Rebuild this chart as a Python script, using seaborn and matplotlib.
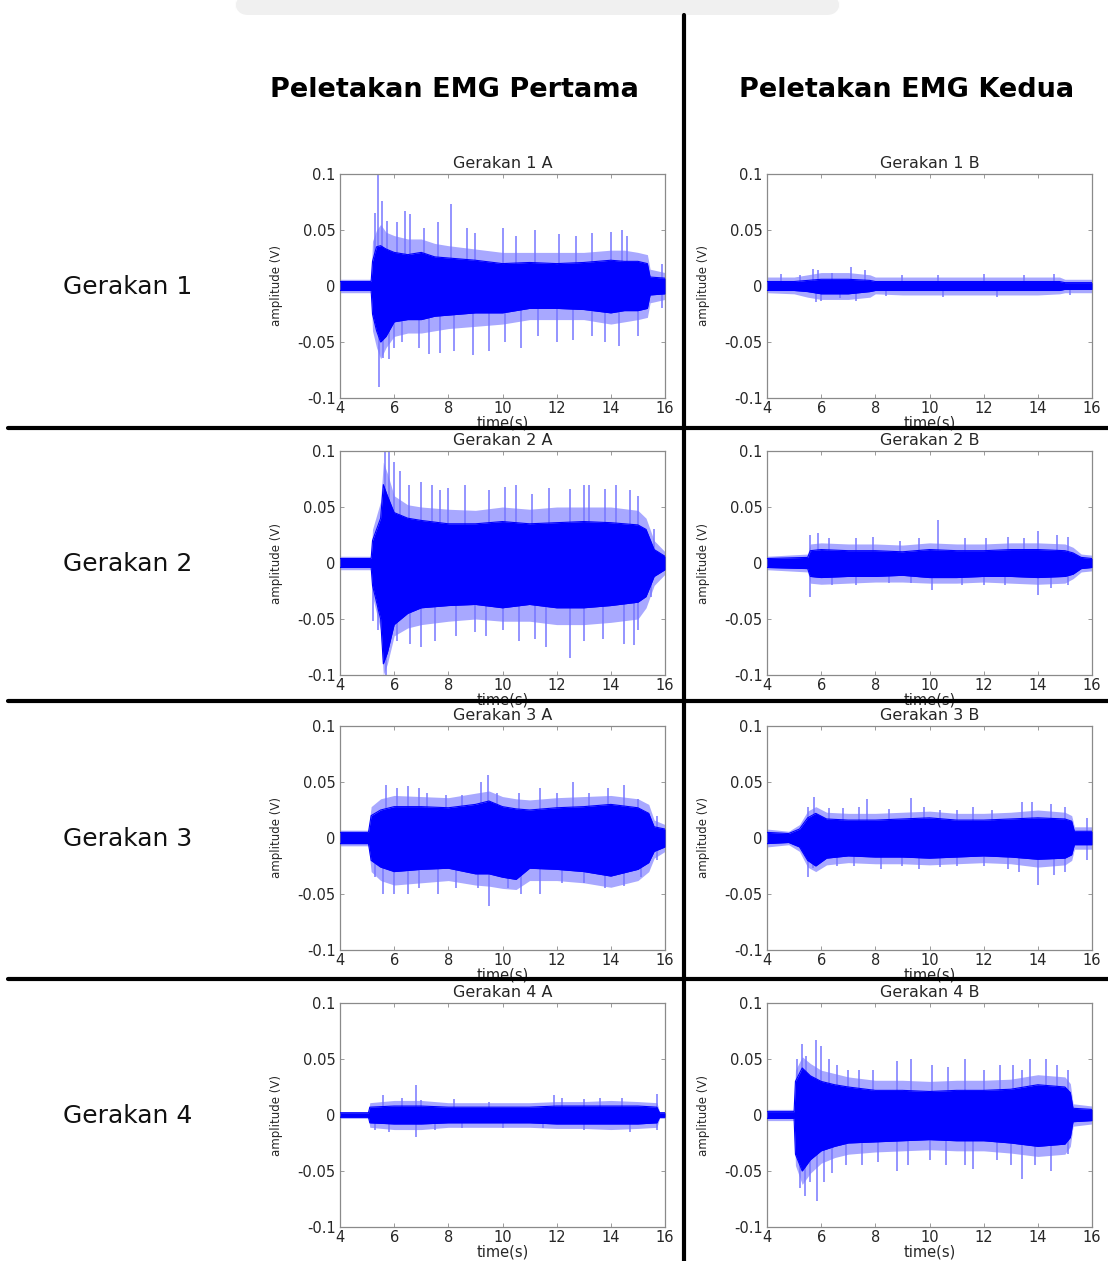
import matplotlib
matplotlib.use("Agg")
import matplotlib.pyplot as plt
from matplotlib.lines import Line2D
from matplotlib.patches import FancyBboxPatch
import seaborn as sns
import numpy as np

# ---------------- data ----------------
TITLES = ["Gerakan 1 A", "Gerakan 1 B", "Gerakan 2 A", "Gerakan 2 B",
          "Gerakan 3 A", "Gerakan 3 B", "Gerakan 4 A", "Gerakan 4 B"]
ROW_LABELS = ["Gerakan 1", "Gerakan 2", "Gerakan 3", "Gerakan 4"]
COL_HEADERS = ["Peletakan EMG Pertama", "Peletakan EMG Kedua"]
X_TICKS = [4, 6, 8, 10, 12, 14, 16]
Y_TICKS = [-0.1, -0.05, 0, 0.05, 0.1]
Y_TICK_LABELS = ["-0.1", "-0.05", "0", "0.05", "0.1"]

# envelope of the dense signal band (core) and of the lighter fringe (out)
T_1A = [4.0, 5.15, 5.2, 5.35, 5.5, 5.7, 6.0, 6.5, 7.0, 7.5, 8.0, 9.0, 10.0, 11.0, 12.0, 13.0, 14.0, 14.5, 15.0, 15.35, 15.45, 16.0]
CORE_UP_1A = [0.004, 0.004, 0.022, 0.035, 0.036, 0.033, 0.03, 0.028, 0.03, 0.026, 0.025, 0.023, 0.02, 0.021, 0.02, 0.021, 0.023, 0.022, 0.022, 0.02, 0.008, 0.007]
CORE_LO_1A = [-0.004, -0.004, -0.025, -0.04, -0.05, -0.045, -0.032, -0.03, -0.03, -0.027, -0.026, -0.024, -0.024, -0.02, -0.02, -0.021, -0.024, -0.022, -0.022, -0.02, -0.008, -0.007]
OUT_UP_1A = [0.006, 0.006, 0.04, 0.05, 0.055, 0.048, 0.045, 0.042, 0.042, 0.038, 0.036, 0.033, 0.03, 0.03, 0.03, 0.03, 0.032, 0.032, 0.03, 0.028, 0.015, 0.012]
OUT_LO_1A = [-0.006, -0.006, -0.04, -0.055, -0.065, -0.055, -0.045, -0.042, -0.042, -0.04, -0.038, -0.036, -0.034, -0.03, -0.03, -0.03, -0.034, -0.032, -0.03, -0.028, -0.015, -0.012]
SPIKES_1A = [(5.3, 0.065), (5.42, 0.1), (5.55, 0.076), (5.75, 0.058), (6.1, 0.057), (6.4, 0.067), (6.6, 0.064),
             (7.1, 0.052), (7.6, 0.057), (8.1, 0.073), (8.7, 0.052), (9.0, 0.047), (10.0, 0.052), (10.5, 0.045),
             (11.2, 0.05), (12.1, 0.046), (12.7, 0.045), (13.3, 0.047), (14.0, 0.048), (14.4, 0.05), (14.6, 0.045),
             (15.9, 0.02),
             (5.45, -0.09), (5.6, -0.064), (5.8, -0.065), (6.0, -0.055), (6.3, -0.05), (6.9, -0.055), (7.3, -0.061),
             (7.7, -0.06), (8.2, -0.058), (8.9, -0.062), (9.5, -0.058), (10.1, -0.05), (10.7, -0.055), (11.3, -0.045),
             (12.0, -0.05), (12.6, -0.048), (13.3, -0.045), (13.8, -0.05), (14.3, -0.054), (15.0, -0.045), (15.9, -0.02)]

T_1B = [4.0, 5.0, 5.5, 6.0, 7.0, 7.8, 8.0, 9.0, 10.0, 11.0, 12.0, 13.0, 14.0, 14.8, 15.0, 16.0]
CORE_UP_1B = [0.004, 0.004, 0.005, 0.006, 0.006, 0.005, 0.004, 0.004, 0.004, 0.004, 0.004, 0.004, 0.004, 0.004, 0.003, 0.003]
CORE_LO_1B = [-0.004, -0.004, -0.005, -0.007, -0.007, -0.005, -0.004, -0.004, -0.004, -0.004, -0.004, -0.004, -0.004, -0.004, -0.003, -0.003]
OUT_UP_1B = [0.008, 0.008, 0.01, 0.012, 0.012, 0.01, 0.008, 0.008, 0.008, 0.008, 0.008, 0.008, 0.008, 0.008, 0.006, 0.006]
OUT_LO_1B = [-0.006, -0.007, -0.01, -0.012, -0.012, -0.01, -0.007, -0.008, -0.008, -0.008, -0.008, -0.008, -0.008, -0.007, -0.006, -0.006]
SPIKES_1B = [(4.5, 0.011), (5.2, 0.01), (5.7, 0.015), (5.9, 0.014), (6.4, 0.012), (7.1, 0.017), (7.6, 0.014),
             (9.0, 0.01), (10.3, 0.01), (12.0, 0.011), (13.5, 0.01), (14.6, 0.011),
             (5.8, -0.014), (6.0, -0.013), (6.7, -0.011), (7.3, -0.013), (8.4, -0.009), (10.5, -0.01),
             (12.5, -0.01), (15.2, -0.008)]

T_2A = [4.0, 5.15, 5.2, 5.5, 5.6, 5.75, 6.0, 6.5, 7.0, 8.0, 9.0, 10.0, 11.0, 12.0, 13.0, 14.0, 15.0, 15.3, 15.6, 16.0]
CORE_UP_2A = [0.004, 0.004, 0.02, 0.04, 0.07, 0.06, 0.045, 0.04, 0.038, 0.035, 0.035, 0.037, 0.035, 0.036, 0.037, 0.036, 0.034, 0.03, 0.012, 0.006]
CORE_LO_2A = [-0.004, -0.004, -0.02, -0.05, -0.09, -0.08, -0.055, -0.045, -0.04, -0.038, -0.037, -0.04, -0.037, -0.04, -0.04, -0.038, -0.035, -0.03, -0.012, -0.006]
OUT_UP_2A = [0.006, 0.006, 0.03, 0.055, 0.09, 0.08, 0.06, 0.052, 0.05, 0.048, 0.047, 0.05, 0.048, 0.05, 0.05, 0.05, 0.047, 0.04, 0.02, 0.01]
OUT_LO_2A = [-0.006, -0.006, -0.03, -0.06, -0.1, -0.09, -0.065, -0.058, -0.055, -0.052, -0.05, -0.052, -0.052, -0.055, -0.055, -0.053, -0.05, -0.04, -0.02, -0.01]
SPIKES_2A = [(5.65, 0.1), (5.8, 0.1), (6.0, 0.09), (6.2, 0.082), (6.55, 0.07), (7.0, 0.072), (7.4, 0.07), (7.7, 0.065),
             (8.0, 0.067), (8.6, 0.07), (9.5, 0.065), (10.1, 0.068), (10.5, 0.07), (11.1, 0.062), (11.7, 0.067),
             (12.5, 0.066), (13.0, 0.07), (13.2, 0.07), (13.8, 0.066), (14.2, 0.07), (14.7, 0.065), (15.0, 0.06),
             (15.6, 0.03),
             (5.2, -0.052), (5.4, -0.06), (5.7, -0.1), (6.1, -0.07), (6.6, -0.072), (7.0, -0.075), (7.5, -0.07),
             (8.3, -0.065), (9.0, -0.062), (9.4, -0.065), (10.0, -0.06), (10.6, -0.07), (11.2, -0.068),
             (11.6, -0.075), (12.5, -0.085), (13.0, -0.07), (13.7, -0.068), (14.5, -0.072), (14.85, -0.073),
             (15.0, -0.06), (15.5, -0.03)]

T_2B = [4.0, 5.5, 5.6, 6.0, 7.0, 8.0, 9.0, 10.0, 11.0, 12.0, 13.0, 14.0, 15.0, 15.3, 15.6, 16.0]
CORE_UP_2B = [0.004, 0.005, 0.011, 0.012, 0.011, 0.011, 0.01, 0.012, 0.011, 0.011, 0.012, 0.012, 0.011, 0.009, 0.005, 0.004]
CORE_LO_2B = [-0.004, -0.005, -0.012, -0.013, -0.012, -0.012, -0.011, -0.013, -0.013, -0.012, -0.012, -0.013, -0.012, -0.01, -0.005, -0.004]
OUT_UP_2B = [0.006, 0.008, 0.017, 0.018, 0.017, 0.017, 0.016, 0.018, 0.017, 0.017, 0.018, 0.018, 0.017, 0.014, 0.008, 0.007]
OUT_LO_2B = [-0.006, -0.008, -0.018, -0.019, -0.018, -0.017, -0.017, -0.018, -0.018, -0.017, -0.018, -0.019, -0.018, -0.014, -0.008, -0.007]
SPIKES_2B = [(5.6, 0.025), (5.9, 0.027), (6.3, 0.022), (7.3, 0.022), (7.9, 0.023), (8.9, 0.02), (9.6, 0.022),
             (10.3, 0.038), (11.3, 0.022), (12.1, 0.022), (12.9, 0.023), (13.5, 0.022), (14.0, 0.029),
             (14.7, 0.025), (15.1, 0.023),
             (5.6, -0.03), (6.4, -0.02), (7.3, -0.02), (8.5, -0.018), (9.3, -0.018), (10.1, -0.024),
             (11.2, -0.02), (12.0, -0.02), (12.8, -0.02), (14.0, -0.029), (14.5, -0.022), (15.1, -0.02)]

T_3A = [4.0, 5.05, 5.15, 5.5, 6.0, 7.0, 8.0, 9.0, 9.5, 10.0, 10.5, 11.0, 12.0, 13.0, 14.0, 15.0, 15.4, 15.6, 16.0]
CORE_UP_3A = [0.005, 0.005, 0.02, 0.025, 0.028, 0.028, 0.027, 0.03, 0.033, 0.028, 0.026, 0.025, 0.027, 0.028, 0.03, 0.027, 0.022, 0.01, 0.008]
CORE_LO_3A = [-0.005, -0.005, -0.02, -0.026, -0.03, -0.028, -0.027, -0.032, -0.032, -0.035, -0.037, -0.027, -0.028, -0.03, -0.034, -0.028, -0.022, -0.012, -0.008]
OUT_UP_3A = [0.007, 0.007, 0.028, 0.035, 0.038, 0.037, 0.036, 0.04, 0.042, 0.037, 0.035, 0.034, 0.036, 0.037, 0.038, 0.035, 0.03, 0.016, 0.012]
OUT_LO_3A = [-0.007, -0.007, -0.03, -0.038, -0.042, -0.04, -0.038, -0.042, -0.043, -0.045, -0.046, -0.038, -0.038, -0.04, -0.044, -0.038, -0.03, -0.018, -0.012]
SPIKES_3A = [(5.7, 0.047), (6.1, 0.045), (6.5, 0.046), (6.9, 0.045), (7.2, 0.04), (7.9, 0.038), (8.5, 0.038),
             (9.2, 0.05), (9.45, 0.056), (9.8, 0.04), (10.6, 0.04), (11.4, 0.045), (12.0, 0.04), (12.6, 0.05),
             (13.2, 0.04), (13.9, 0.045), (14.5, 0.047), (15.0, 0.035), (15.7, 0.02),
             (5.3, -0.035), (5.6, -0.05), (6.0, -0.05), (6.5, -0.05), (6.9, -0.045), (7.6, -0.05), (8.3, -0.045),
             (9.1, -0.045), (9.5, -0.061), (10.2, -0.045), (10.7, -0.05), (11.4, -0.05), (12.2, -0.04),
             (13.0, -0.04), (13.8, -0.045), (14.5, -0.043), (15.1, -0.035), (15.7, -0.02)]

T_3B = [4.0, 4.8, 5.2, 5.5, 5.8, 6.2, 7.0, 8.0, 9.0, 10.0, 11.0, 12.0, 13.0, 14.0, 15.0, 15.25, 15.35, 16.0]
CORE_UP_3B = [0.005, 0.004, 0.008, 0.018, 0.022, 0.017, 0.016, 0.016, 0.017, 0.018, 0.016, 0.016, 0.017, 0.018, 0.017, 0.015, 0.006, 0.006]
CORE_LO_3B = [-0.005, -0.004, -0.008, -0.02, -0.025, -0.018, -0.016, -0.017, -0.017, -0.018, -0.017, -0.016, -0.017, -0.019, -0.018, -0.015, -0.006, -0.006]
OUT_UP_3B = [0.008, 0.006, 0.012, 0.024, 0.028, 0.023, 0.022, 0.022, 0.023, 0.024, 0.022, 0.022, 0.023, 0.025, 0.023, 0.02, 0.01, 0.01]
OUT_LO_3B = [-0.008, -0.006, -0.012, -0.026, -0.03, -0.024, -0.022, -0.023, -0.023, -0.024, -0.023, -0.022, -0.023, -0.026, -0.024, -0.02, -0.01, -0.01]
SPIKES_3B = [(5.5, 0.028), (5.75, 0.037), (6.3, 0.027), (6.8, 0.027), (7.4, 0.028), (7.7, 0.035), (8.5, 0.026),
             (9.3, 0.036), (9.8, 0.028), (10.4, 0.025), (11.0, 0.025), (11.6, 0.028), (12.3, 0.025), (13.4, 0.032),
             (13.8, 0.032), (14.5, 0.03), (15.0, 0.028), (15.8, 0.018),
             (5.5, -0.035), (5.7, -0.027), (6.6, -0.025), (7.2, -0.025), (8.2, -0.028), (9.0, -0.025),
             (9.6, -0.028), (10.4, -0.026), (11.0, -0.025), (12.0, -0.025), (12.9, -0.028), (13.3, -0.03),
             (14.0, -0.042), (14.6, -0.033), (15.0, -0.03), (15.8, -0.02)]

T_4A = [4.0, 5.05, 5.1, 6.0, 7.0, 8.0, 9.0, 10.0, 11.0, 12.0, 13.0, 14.0, 15.0, 15.7, 15.8, 16.0]
CORE_UP_4A = [0.002, 0.002, 0.007, 0.008, 0.008, 0.007, 0.007, 0.007, 0.007, 0.008, 0.008, 0.008, 0.008, 0.007, 0.002, 0.002]
CORE_LO_4A = [-0.002, -0.002, -0.007, -0.008, -0.008, -0.007, -0.007, -0.007, -0.007, -0.008, -0.008, -0.008, -0.008, -0.007, -0.002, -0.002]
OUT_UP_4A = [0.003, 0.003, 0.011, 0.013, 0.013, 0.011, 0.011, 0.011, 0.011, 0.012, 0.012, 0.013, 0.012, 0.011, 0.003, 0.003]
OUT_LO_4A = [-0.003, -0.003, -0.011, -0.013, -0.013, -0.011, -0.011, -0.011, -0.011, -0.012, -0.012, -0.013, -0.012, -0.011, -0.003, -0.003]
SPIKES_4A = [(5.6, 0.018), (6.3, 0.015), (6.8, 0.027), (7.0, 0.013), (8.2, 0.014), (9.5, 0.012), (11.9, 0.018),
             (12.2, 0.015), (13.0, 0.014), (13.6, 0.015), (14.4, 0.015), (15.7, 0.019),
             (5.3, -0.013), (5.8, -0.015), (6.8, -0.02), (7.5, -0.013), (8.5, -0.012), (10.0, -0.012),
             (11.5, -0.012), (13.0, -0.013), (14.7, -0.015), (15.7, -0.013)]

T_4B = [4.0, 5.0, 5.05, 5.3, 5.6, 6.0, 6.5, 7.0, 8.0, 9.0, 10.0, 11.0, 12.0, 13.0, 14.0, 15.0, 15.2, 15.3, 16.0]
CORE_UP_4B = [0.003, 0.003, 0.03, 0.042, 0.035, 0.03, 0.027, 0.025, 0.022, 0.022, 0.021, 0.022, 0.022, 0.023, 0.027, 0.025, 0.02, 0.006, 0.005]
CORE_LO_4B = [-0.003, -0.003, -0.035, -0.05, -0.04, -0.032, -0.028, -0.025, -0.024, -0.023, -0.022, -0.023, -0.023, -0.025, -0.028, -0.026, -0.02, -0.006, -0.005]
OUT_UP_4B = [0.005, 0.005, 0.04, 0.052, 0.046, 0.04, 0.037, 0.034, 0.031, 0.031, 0.03, 0.031, 0.031, 0.032, 0.036, 0.034, 0.028, 0.01, 0.008]
OUT_LO_4B = [-0.005, -0.005, -0.045, -0.062, -0.052, -0.043, -0.038, -0.035, -0.033, -0.032, -0.031, -0.032, -0.032, -0.034, -0.037, -0.035, -0.028, -0.01, -0.008]
SPIKES_4B = [(5.1, 0.05), (5.3, 0.063), (5.45, 0.053), (5.8, 0.067), (6.0, 0.062), (6.3, 0.05), (6.6, 0.045),
             (7.0, 0.04), (7.4, 0.04), (7.9, 0.04), (8.8, 0.048), (9.3, 0.05), (10.1, 0.045), (10.7, 0.043),
             (11.3, 0.05), (12.0, 0.04), (12.6, 0.045), (13.1, 0.045), (13.4, 0.04), (13.7, 0.05), (14.3, 0.05),
             (14.7, 0.045), (15.1, 0.04),
             (5.2, -0.065), (5.4, -0.072), (5.6, -0.06), (5.85, -0.077), (6.1, -0.06), (6.4, -0.052),
             (6.9, -0.045), (7.5, -0.045), (8.1, -0.042), (8.8, -0.05), (9.2, -0.045), (10.0, -0.04),
             (10.6, -0.045), (11.3, -0.045), (11.6, -0.048), (12.5, -0.04), (13.0, -0.045), (13.4, -0.057),
             (13.9, -0.045), (14.5, -0.05), (15.1, -0.035)]

PANELS = [
    (T_1A, CORE_UP_1A, CORE_LO_1A, OUT_UP_1A, OUT_LO_1A, SPIKES_1A),
    (T_1B, CORE_UP_1B, CORE_LO_1B, OUT_UP_1B, OUT_LO_1B, SPIKES_1B),
    (T_2A, CORE_UP_2A, CORE_LO_2A, OUT_UP_2A, OUT_LO_2A, SPIKES_2A),
    (T_2B, CORE_UP_2B, CORE_LO_2B, OUT_UP_2B, OUT_LO_2B, SPIKES_2B),
    (T_3A, CORE_UP_3A, CORE_LO_3A, OUT_UP_3A, OUT_LO_3A, SPIKES_3A),
    (T_3B, CORE_UP_3B, CORE_LO_3B, OUT_UP_3B, OUT_LO_3B, SPIKES_3B),
    (T_4A, CORE_UP_4A, CORE_LO_4A, OUT_UP_4A, OUT_LO_4A, SPIKES_4A),
    (T_4B, CORE_UP_4B, CORE_LO_4B, OUT_UP_4B, OUT_LO_4B, SPIKES_4B),
]

# ---------------- style ----------------
sns.set_theme(style="white")
plt.rcParams["font.family"] = ["DejaVu Sans"]

W, H = 1108, 1261
fig = plt.figure(figsize=(W / 100, H / 100), dpi=100)
fig.patch.set_facecolor("white")

CORE = "#0000ff"
FRINGE = "#a8a8ff"
SPIKE = "#7676ff"
GRAY = "#8a8a8a"
TXT = "#262626"

col_left = [340, 767]
row_top = [174, 451, 726, 1003]
AX_W, AX_H = 325, 224


def fx(px):
    return px / W


def fy(py):
    return 1 - py / H


for i, (t, cu, cl, ou, ol, spikes) in enumerate(PANELS):
    r, c = divmod(i, 2)
    x0 = col_left[c]
    y0 = row_top[r]
    ax = fig.add_axes([fx(x0), fy(y0 + AX_H), AX_W / W, AX_H / H])
    ax.fill_between(t, ol, ou, color=FRINGE, lw=0, zorder=1)
    st = [s[0] for s in spikes]
    sv = [s[1] for s in spikes]
    ax.vlines(st, 0, sv, color=SPIKE, lw=1.1, zorder=2)
    ax.fill_between(t, cl, cu, color=CORE, lw=0, zorder=3)
    sns.lineplot(x=t, y=cu, ax=ax, color=CORE, lw=0.8, zorder=4)
    sns.lineplot(x=t, y=cl, ax=ax, color=CORE, lw=0.8, zorder=4)

    ax.set_xlim(4, 16)
    ax.set_ylim(-0.1, 0.1)
    ax.set_xticks(X_TICKS)
    ax.set_xticklabels([str(v) for v in X_TICKS])
    ax.set_yticks(Y_TICKS)
    ax.set_yticklabels(Y_TICK_LABELS)
    ax.tick_params(direction="in", length=3, width=0.6, color=GRAY,
                   top=True, right=True, bottom=True, left=True,
                   labelsize=10.5, labelcolor=TXT)
    ax.tick_params(axis="x", pad=2)
    ax.tick_params(axis="y", pad=3)
    for sp in ax.spines.values():
        sp.set_color(GRAY)
        sp.set_linewidth(0.9)
        sp.set_visible(True)
    ax.set_title(TITLES[i], fontsize=11.5, color=TXT, pad=4)
    ax.set_xlabel("time(s)", fontsize=10.5, color=TXT, labelpad=0)
    ax.set_ylabel("amplitude (V)", fontsize=8.5, color=TXT)
    ax.yaxis.set_label_coords(-0.175, 0.5)
    ax.set_facecolor("white")

# row labels
for r, lab in enumerate(ROW_LABELS):
    fig.text(fx(63), fy(row_top[r] + 113), lab, fontsize=18, color="#111111",
             ha="left", va="center")

# column headers
fig.text(fx(454), fy(90), COL_HEADERS[0], fontsize=19.5, fontweight="bold",
         color="black", ha="center", va="center")
fig.text(fx(907), fy(90), COL_HEADERS[1], fontsize=19.5, fontweight="bold",
         color="black", ha="center", va="center")

# separator lines
fig.add_artist(Line2D([fx(684), fx(684)], [fy(15), fy(1261)], color="black",
                      lw=3, transform=fig.transFigure))
for yy in [428, 701, 979]:
    fig.add_artist(Line2D([fx(8), fx(1108)], [fy(yy), fy(yy)], color="black",
                          lw=3, transform=fig.transFigure))

# faint gray shape at the very top
fig.add_artist(FancyBboxPatch((fx(235), fy(15)), fx(605), 20 / H,
                              boxstyle="round,pad=0,rounding_size=0.012",
                              facecolor="#f0f0f0", edgecolor="none",
                              transform=fig.transFigure, zorder=0))

fig.savefig("out.png", dpi=100, facecolor="white")
